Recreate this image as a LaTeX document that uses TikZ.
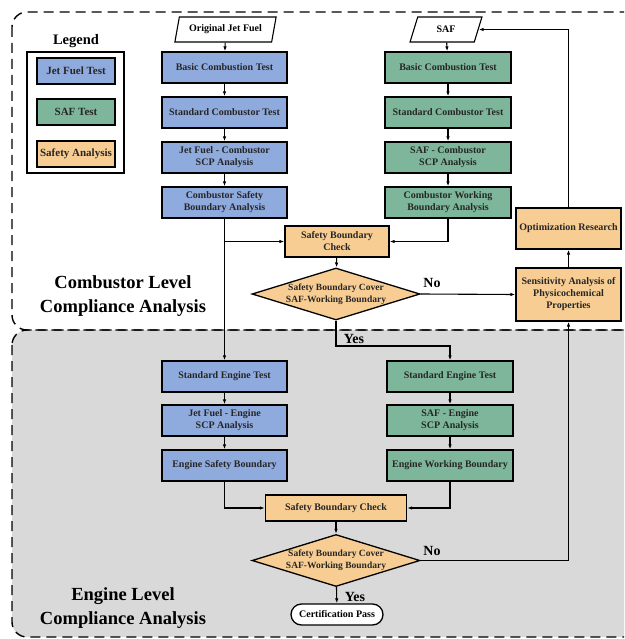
\documentclass[tikz,border=0pt]{standalone}
\usepackage{fontspec}
\setmainfont{Liberation Serif}
\usetikzlibrary{arrows.meta,shapes.geometric,shapes.misc}
\definecolor{jetblue}{HTML}{8FAADC}
\definecolor{safgreen}{HTML}{7DB69A}
\definecolor{safeorange}{HTML}{F7CD93}
\definecolor{regiongray}{HTML}{D9D9D9}
\tikzset{
  box/.style={draw=black, line width=1.3pt, rectangle, align=center, inner sep=1pt,
    font=\bfseries\fontsize{10}{12}\selectfont, text=black!85},
  jetbox/.style={box, fill=jetblue, minimum width=125pt, minimum height=31pt},
  safbox/.style={box, fill=safgreen, minimum width=126pt, minimum height=31pt},
  orbox/.style={box, fill=safeorange},
  legbox/.style={box, minimum width=78pt, minimum height=26pt, font=\bfseries\fontsize{11}{13}\selectfont},
  fuelpara/.style={draw=black, line width=1.1pt, trapezium, trapezium left angle=72,
    trapezium right angle=108, trapezium stretches=true, minimum height=25pt, inner sep=1pt,
    font=\bfseries\fontsize{10}{12}\selectfont, fill=white},
  decbox/.style={draw=black, line width=1.3pt, diamond, fill=safeorange, inner sep=0pt,
    minimum width=168pt, minimum height=52pt},
  dectext/.style={align=center, font=\bfseries\fontsize{9.5}{12}\selectfont, text=black!85},
  arr/.style={line width=1.1pt, -{Latex[length=5pt,width=3.5pt]}},
  lbl/.style={font=\bfseries\fontsize{14}{16}\selectfont},
  region/.style={dashed, dash pattern=on 10pt off 6pt, line width=1.4pt, rounded corners=15pt},
  regtext/.style={align=center, font=\bfseries\fontsize{18.5}{24}\selectfont},
}
\begin{document}
\begin{tikzpicture}[x=1pt,y=-1pt]
\useasboundingbox (0,0) rectangle (624,639);
% regions
\begin{scope}
\clip (0,0) rectangle (624,639);
\draw[region, fill=regiongray] (12,330) rectangle (660,637);
\draw[region] (12,12) rectangle (660,330);
\end{scope}
\node[regtext] (combtxt) at (123,296) {Combustor Level\\Compliance Analysis};
\node[regtext] (engtxt) at (123,608) {Engine Level\\Compliance Analysis};

% legend
\node[font=\bfseries\fontsize{14.5}{16}\selectfont] (legtitle) at (76,41) {Legend};
\node[draw=black, line width=1.3pt, minimum width=97pt, minimum height=121pt] (legframe) at (75.5,112.5) {};
\node[legbox, fill=jetblue] (legjet) at (76,71) {Jet Fuel Test};
\node[legbox, fill=safgreen] (legsaf) at (76,112) {SAF Test};
\node[legbox, fill=safeorange] (legsafe) at (76,154) {Safety Analysis};

% combustor level
\node[fuelpara, minimum width=102pt] (ojf) at (225.5,29.5) {Original Jet Fuel};
\node[fuelpara, minimum width=72pt] (saf) at (446,29.5) {SAF};

\node[jetbox] (l1) at (224.5,67.5) {Basic Combustion Test};
\node[jetbox] (l2) at (224.5,112.5) {Standard Combustor Test};
\node[jetbox] (l3) at (224.5,157.5) {Jet Fuel - Combustor\\SCP Analysis};
\node[jetbox] (l4) at (224.5,202.5) {Combustor Safety\\Boundary Analysis};

\node[safbox] (r1) at (448,67.5) {Basic Combustion Test};
\node[safbox] (r2) at (448,112.5) {Standard Combustor Test};
\node[safbox] (r3) at (448,157.5) {SAF - Combustor\\SCP Analysis};
\node[safbox] (r4) at (448,202.5) {Combustor Working\\Boundary Analysis};

\node[orbox, minimum width=104pt, minimum height=31pt] (sc1) at (337,241.5) {Safety Boundary\\Check};
\node[decbox] (d1) at (336,294) {};
\node[dectext] (d1t) at (336,294) {Safety Boundary Cover\\SAF-Working Boundary};

\node[orbox, minimum width=105pt, minimum height=53pt] (sens) at (568.5,294.5) {Sensitivity Analysis of\\Physicochemical\\Properties};
\node[orbox, minimum width=105pt, minimum height=41pt] (opt) at (568.5,228.5) {Optimization Research};

% engine level
\node[jetbox] (le1) at (224.5,376.5) {Standard Engine Test};
\node[jetbox] (le2) at (224.5,420.5) {Jet Fuel - Engine\\SCP Analysis};
\node[jetbox] (le3) at (224.5,465.5) {Engine Safety Boundary};

\node[safbox] (re1) at (450,376.5) {Standard Engine Test};
\node[safbox] (re2) at (450,420.5) {SAF - Engine\\SCP Analysis};
\node[safbox] (re3) at (450,465.5) {Engine Working Boundary};

\node[orbox, minimum width=141pt, minimum height=26pt] (sc2) at (336,508) {Safety Boundary Check};
\node[decbox] (d2) at (336,560.5) {};
\node[dectext] (d2t) at (336,560.5) {Safety Boundary Cover\\SAF-Working Boundary};

\node[draw=black, line width=1.3pt, rounded rectangle, fill=white, minimum width=94pt, minimum height=21pt,
  inner sep=1pt, font=\bfseries\fontsize{10}{12}\selectfont] (cert) at (337,614.5) {Certification Pass};

\coordinate (yes1) at (336,346);

% connectors
\draw[arr] (ojf) -- (l1);
\draw[arr] (l1) -- (l2);
\draw[arr] (l2) -- (l3);
\draw[arr] (l3) -- (l4);
\draw[arr] (saf) -- (r1);
\draw[arr] (r1) -- (r2);
\draw[arr] (r2) -- (r3);
\draw[arr] (r3) -- (r4);
\draw[arr] (l4) -- (le1);
\draw[arr] (l4.south |- sc1.west) -- (sc1.west);
\draw[arr] (r4.south) |- (sc1.east);
\draw[arr] (sc1) -- (d1);
\draw[arr] (d1.east) -- (sens.west);
\node[lbl] (nolbl1) at (432,283) {No};
\draw[arr] (sens) -- (opt);
\draw[arr] (opt.north) |- (saf.east);
\draw[arr] (d1.south) -- (yes1) -| (re1.north);
\node[lbl] (yeslbl1) at (354,339) {Yes};

\draw[arr] (le1) -- (le2);
\draw[arr] (le2) -- (le3);
\draw[arr] (re1) -- (re2);
\draw[arr] (re2) -- (re3);
\draw[arr] (le3.south) |- (sc2.west);
\draw[arr] (re3.south) |- (sc2.east);
\draw[arr] (sc2) -- (d2);
\draw[arr] (d2.east) -| (sens.south);
\node[lbl] (nolbl2) at (432,551) {No};
\draw[arr] (d2) -- (cert);
\node[lbl] (yeslbl2) at (355,597) {Yes};
\end{tikzpicture}
\end{document}
